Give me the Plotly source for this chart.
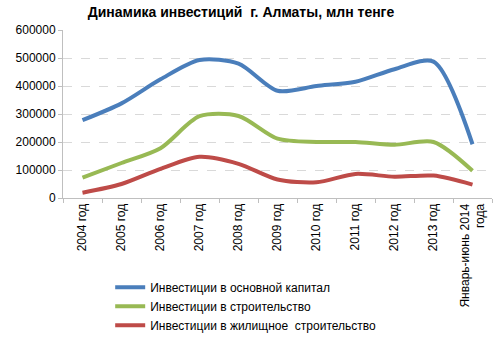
import plotly.graph_objects as go

categories = ["2004 год", "2005 год", "2006 год", "2007 год", "2008 год", "2009 год",
              "2010 год", "2011 год", "2012 год", "2013 год", "Январь-июнь 2014<br>года"]
capital = [278000, 338000, 424000, 493000, 480000, 383000, 400000, 415000, 460000, 487000, 192000]
construction = [73000, 125000, 178000, 292000, 293000, 212000, 200000, 200000, 190000, 200000, 97000]
housing = [19000, 50000, 104000, 147000, 122000, 66000, 56000, 86000, 76000, 80000, 48000]

names = ["Инвестиции в основной капитал", "Инвестиции в строительство",
         "Инвестиции в жилищное  строительство"]
colors = ["#4A7EBB", "#98B954", "#BE4B48"]

fig = go.Figure()
for name, vals, c in zip(names, [capital, construction, housing], colors):
    fig.add_trace(go.Scatter(x=categories, y=vals, name=name, mode="lines",
                             line=dict(color=c, width=4, shape="spline", smoothing=0.8)))

fig.update_layout(
    width=499, height=337,
    margin=dict(l=63, r=7, t=30, b=139, autoexpand=False),
    paper_bgcolor="white", plot_bgcolor="white",
    font=dict(family="Liberation Sans, Arial", size=12, color="#000000"),
    title=dict(text="<b>Динамика инвестиций  г. Алматы, млн тенге</b>",
               x=0.483, xanchor="center", y=0.965, yanchor="middle",
               font=dict(size=14, color="#000000")),
    showlegend=True,
    legend=dict(x=0.11, y=-0.445, xanchor="left", yanchor="top",
                font=dict(size=12), bgcolor="rgba(0,0,0,0)",
                tracegroupgap=0),
)
fig.update_xaxes(type="category", range=[-0.5, 10.5], tickangle=-90, automargin=False,
                 ticks="outside", tickson="boundaries", ticklen=4, tickcolor="#BFBFBF",
                 showline=True, linecolor="#BFBFBF", linewidth=1, showgrid=False,
                 tickfont=dict(size=12))
fig.update_yaxes(range=[0, 600000], dtick=100000, tickformat="d", automargin=False,
                 showgrid=True, gridcolor="#D9D9D9", griddash="dash", gridwidth=1,
                 showline=True, linecolor="#BFBFBF", linewidth=1,
                 ticks="outside", ticklen=4, tickcolor="#BFBFBF",
                 zeroline=False, tickfont=dict(size=12))

fig.write_html("out.html")
